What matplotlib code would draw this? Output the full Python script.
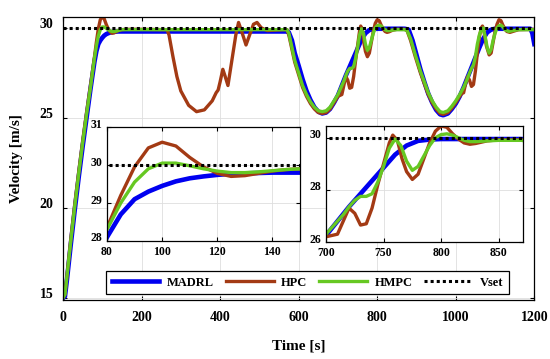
import matplotlib
matplotlib.use("Agg")
import matplotlib.pyplot as plt
import matplotlib.transforms as mtransforms

plt.rcParams['font.family'] = ['Liberation Serif', 'DejaVu Serif']
plt.rcParams['font.weight'] = 'bold'

# MADRL
t_madrl = [0, 5, 10, 20, 30, 40, 50, 60, 70, 80,
           85, 90, 95, 100, 105, 110, 115, 120, 125, 130,
           140, 150, 200, 300, 400, 500, 570, 575, 583, 590,
           600, 610, 620, 630, 640, 650, 660, 670, 680, 690,
           700, 710, 720, 730, 740, 750, 760, 770, 780, 790,
           800, 850, 870, 880, 890, 900, 910, 920, 930, 940,
           950, 960, 968, 980, 990, 1000, 1010, 1020, 1030, 1040,
           1050, 1060, 1070, 1080, 1090, 1100, 1150, 1190, 1195, 1200]
v_madrl = [15.0, 15.1, 16.0, 18.0, 19.9, 21.7, 23.4, 25.0, 26.6, 28.1,
           28.7, 29.1, 29.3, 29.45, 29.57, 29.65, 29.7, 29.74, 29.77, 29.78,
           29.8, 29.8, 29.8, 29.8, 29.8, 29.8, 29.8, 29.75, 29.3, 28.6,
           27.9, 27.15, 26.5, 26.0, 25.6, 25.35, 25.25, 25.3, 25.5, 25.85,
           26.25, 26.8, 27.35, 27.85, 28.35, 28.85, 29.35, 29.7, 29.88, 29.93,
           29.95, 29.95, 29.95, 29.9, 29.3, 28.5, 27.7, 27.0, 26.35, 25.85,
           25.45, 25.2, 25.15, 25.25, 25.5, 25.8, 26.2, 26.7, 27.25, 27.8,
           28.35, 28.9, 29.4, 29.75, 29.9, 29.95, 29.95, 29.95, 29.7, 29.1]

# HPC
t_hpc = [0, 5, 10, 20, 30, 40, 50, 60, 70, 80,
         85, 90, 95, 100, 105, 110, 115, 120, 125, 130,
         135, 140, 145, 150, 160, 200, 265, 270, 280, 290,
         300, 320, 340, 360, 380, 390, 395, 400, 407, 413,
         420, 430, 440, 447, 455, 466, 475, 485, 494, 505,
         520, 560, 570, 575, 583, 590, 600, 610, 620, 630,
         640, 650, 660, 670, 680, 690, 700, 705, 710, 715,
         720, 725, 730, 735, 740, 745, 750, 755, 758, 762,
         766, 770, 775, 780, 785, 790, 795, 800, 805, 810,
         815, 820, 825, 830, 840, 850, 870, 876, 885, 897,
         910, 920, 930, 940, 950, 960, 968, 980, 990, 1000,
         1010, 1015, 1020, 1025, 1030, 1035, 1040, 1045, 1050, 1055,
         1060, 1065, 1068, 1072, 1078, 1085, 1090, 1095, 1100, 1105,
         1110, 1115, 1120, 1125, 1130, 1138, 1145, 1160, 1200]
v_hpc = [15.0, 15.2, 16.2, 18.3, 20.2, 22.0, 23.7, 25.3, 26.8, 28.35,
         29.2, 29.95, 30.45, 30.6, 30.5, 30.2, 29.95, 29.78, 29.7, 29.72,
         29.78, 29.84, 29.88, 29.9, 29.92, 29.92, 29.9, 29.6, 28.4, 27.3,
         26.5, 25.7, 25.35, 25.45, 25.95, 26.4, 26.55, 27.0, 27.7, 27.3,
         26.8, 28.2, 29.6, 30.3, 29.8, 29.05, 29.6, 30.2, 30.3, 30.0,
         29.85, 29.9, 29.9, 29.6, 28.8, 28.1, 27.4, 26.7, 26.2, 25.8,
         25.5, 25.3, 25.25, 25.3, 25.5, 25.85, 26.2, 26.25, 26.3, 26.8,
         27.3, 27.1, 26.65, 26.7, 27.3, 28.2, 29.0, 29.8, 30.1, 29.9,
         29.2, 28.7, 28.4, 28.6, 29.2, 29.8, 30.25, 30.45, 30.4, 30.15,
         29.95, 29.8, 29.75, 29.78, 29.88, 29.92, 29.92, 29.85, 29.3, 28.4,
         27.5, 26.9, 26.3, 25.85, 25.5, 25.25, 25.2, 25.3, 25.55, 25.85,
         26.2, 26.35, 26.4, 26.9, 27.3, 27.1, 26.75, 26.85, 27.6, 28.6,
         29.5, 30.0, 30.1, 29.8, 29.0, 28.5, 28.6, 29.2, 29.8, 30.2,
         30.45, 30.4, 30.15, 29.95, 29.8, 29.75, 29.8, 29.9, 29.92]

# HMPC
t_hmpc = [0, 5, 10, 20, 30, 40, 50, 60, 70, 80,
          85, 90, 95, 100, 105, 110, 115, 120, 125, 130,
          135, 140, 145, 150, 160, 200, 300, 400, 500, 570,
          575, 583, 590, 600, 610, 620, 630, 640, 650, 660,
          670, 680, 690, 700, 705, 710, 715, 720, 725, 730,
          735, 740, 745, 750, 755, 760, 765, 770, 775, 780,
          785, 790, 795, 800, 805, 810, 815, 820, 825, 830,
          840, 850, 870, 876, 885, 897, 910, 920, 930, 940,
          950, 960, 968, 980, 990, 1000, 1010, 1020, 1030, 1035,
          1040, 1045, 1050, 1055, 1060, 1065, 1070, 1075, 1080, 1085,
          1090, 1095, 1100, 1105, 1110, 1115, 1120, 1125, 1135, 1145,
          1160, 1200]
v_hmpc = [15.0, 15.2, 16.2, 18.2, 20.1, 21.9, 23.6, 25.2, 26.7, 28.3,
          29.0, 29.55, 29.9, 30.05, 30.05, 29.98, 29.9, 29.84, 29.8, 29.8,
          29.82, 29.85, 29.88, 29.9, 29.9, 29.9, 29.9, 29.9, 29.9, 29.9,
          29.7, 28.9, 28.2, 27.5, 26.8, 26.3, 25.9, 25.6, 25.4, 25.35,
          25.4, 25.6, 25.95, 26.3, 26.55, 26.8, 27.05, 27.35, 27.6, 27.75,
          27.75, 27.85, 28.3, 28.9, 29.6, 29.95, 29.7, 29.1, 28.75, 28.9,
          29.3, 29.7, 30.0, 30.12, 30.15, 30.1, 30.0, 29.9, 29.85, 29.85,
          29.88, 29.9, 29.9, 29.85, 29.4, 28.5, 27.6, 27.0, 26.4, 25.95,
          25.6, 25.35, 25.3, 25.4, 25.65, 25.95, 26.3, 26.7, 27.2, 27.5,
          27.75, 27.95, 28.4, 29.1, 29.6, 29.9, 30.0, 29.5, 28.9, 28.6,
          28.8, 29.3, 29.7, 30.0, 30.12, 30.15, 30.05, 29.9, 29.8, 29.85,
          29.9, 29.9]

t_vset = [0, 1200]
v_vset = [30, 30]

labels = ['MADRL', 'HPC', 'HMPC', 'Vset']
colors = ['#0000f0', '#a33a14', '#66c822']


def draw_curves(ax):
    l1, = ax.plot(t_madrl, v_madrl, color=colors[0], lw=3.3)
    l2, = ax.plot(t_hpc, v_hpc, color=colors[1], lw=2.4)
    l3, = ax.plot(t_hmpc, v_hmpc, color=colors[2], lw=2.4)
    l4, = ax.plot(t_vset, v_vset, color='black', lw=2.2, linestyle=(0, (1, 1)))
    return [l1, l2, l3, l4]


def style_axes(ax, size):
    ax.tick_params(direction='in', top=True, right=True, length=3, width=0.8,
                   labelsize=size)
    ax.grid(True, color='#dedede', lw=0.6)
    for s in ax.spines.values():
        s.set_linewidth(0.9)
        s.set_color('black')


def raise_ylabels(ax, fig, dy):
    off = mtransforms.ScaledTranslation(0, dy / 100, fig.dpi_scale_trans)
    for lab in ax.get_yticklabels():
        lab.set_transform(lab.get_transform() + off)


fig = plt.figure(figsize=(5.5, 3.59), dpi=100)

ax = fig.add_axes([0.1145, 0.164, 0.857, 0.789])
handles = draw_curves(ax)
ax.set_xlim(0, 1200)
ax.set_ylim(14.89, 30.61)
ax.set_xticks(range(0, 1201, 200))
ax.set_yticks([15, 20, 25, 30])
style_axes(ax, 10)
ax.tick_params(axis='x', pad=8)
ax.tick_params(axis='y', pad=7)
ax.set_xlabel('Time [s]', fontsize=11, fontweight='bold', labelpad=11)
ax.set_ylabel('Velocity [m/s]', fontsize=11, fontweight='bold', labelpad=12)
raise_ylabels(ax, fig, 5)

leg = ax.legend(handles, labels, ncol=4, mode='expand',
                bbox_to_anchor=(0.182, 0.1755, 0.754, 0.075),
                bbox_transform=fig.transFigure, loc='center',
                fancybox=False, edgecolor='black', framealpha=1,
                prop={'family': 'Liberation Serif', 'weight': 'bold', 'size': 9},
                handlelength=3.8, borderpad=0.45, handletextpad=0.6)
leg.get_frame().set_linewidth(0.9)

# inset 1: start-up
ax1 = fig.add_axes([0.1945, 0.3287, 0.351, 0.3175])
draw_curves(ax1)
ax1.set_xlim(80, 150)
ax1.set_ylim(28, 31)
ax1.set_xticks([80, 100, 120, 140])
ax1.set_yticks([28, 29, 30, 31])
style_axes(ax1, 8.5)
raise_ylabels(ax1, fig, 4)

# inset 2: second slow-down
ax2 = fig.add_axes([0.5927, 0.3259, 0.358, 0.3231])
draw_curves(ax2)
ax2.set_xlim(700, 871)
ax2.set_ylim(26, 30.45)
ax2.set_xticks([700, 750, 800, 850])
ax2.set_yticks([26, 28, 30])
style_axes(ax2, 8.5)
raise_ylabels(ax2, fig, 4)

fig.savefig('out.png', dpi=100)
